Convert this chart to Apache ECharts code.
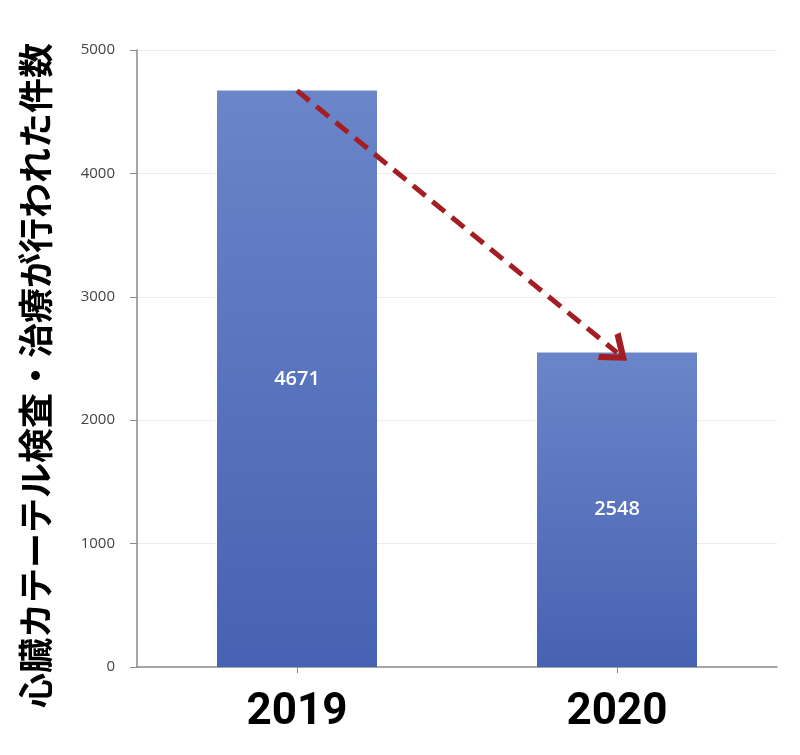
<!DOCTYPE html>
<html>
<head>
<meta charset="utf-8">
<script src="https://cdn.jsdelivr.net/npm/echarts@6/dist/echarts.min.js"></script>
<style>
  html, body { margin: 0; padding: 0; background: #fff; }
  #main { width: 800px; height: 755px; }
</style>
</head>
<body>
<div id="main"></div>
<script>
// データ
var years = ['2019', '2020'];
var counts = [4671, 2548];
var yTicks = [0, 1000, 2000, 3000, 4000, 5000];
var yTitle = '心臓カテーテル検査・治療が行われた件数';

var myChart = echarts.init(document.getElementById('main'));

myChart.setOption({
    animation: false,
    backgroundColor: '#fff',
    grid: { left: 137, right: 23, top: 50, bottom: 88 },
    xAxis: {
        type: 'category',
        data: years,
        axisLine: { lineStyle: { color: '#8a8a8a', width: 1.5 } },
        axisTick: { show: true, alignWithLabel: true, length: 6, lineStyle: { color: '#8a8a8a' } },
        axisLabel: {
            color: '#000',
            fontSize: 44,
            fontWeight: 'bold',
            fontFamily: 'Roboto, "Noto Sans", sans-serif',
            margin: 24
        }
    },
    yAxis: {
        type: 'value',
        min: yTicks[0],
        max: yTicks[yTicks.length - 1],
        interval: 1000,
        name: yTitle,
        nameLocation: 'middle',
        nameRotate: 90,
        nameGap: 84,
        nameTextStyle: {
            color: '#000',
            fontSize: 35,
            fontWeight: 'bold',
            fontFamily: '"Noto Sans CJK JP", sans-serif',
            padding: [0, 34, 0, 0]
        },
        axisLine: { show: true, lineStyle: { color: '#8a8a8a', width: 1.5 } },
        axisTick: { show: true, length: 7, lineStyle: { color: '#8a8a8a' } },
        axisLabel: {
            color: '#444',
            fontSize: 15,
            fontFamily: '"Open Sans", sans-serif',
            margin: 22,
            formatter: function (v) { return String(v); }
        },
        splitLine: { lineStyle: { color: '#ececec' } }
    },
    series: [{
        name: '件数',
        type: 'bar',
        data: counts,
        barWidth: '50%',
        itemStyle: {
            color: new echarts.graphic.LinearGradient(0, 0, 0, 1, [
                { offset: 0, color: '#6a85c8' },
                { offset: 1, color: '#4862b3' }
            ])
        },
        label: {
            show: true,
            position: 'inside',
            color: '#fff',
            fontSize: 20,
            fontWeight: 600,
            fontFamily: '"Open Sans", sans-serif'
        },
        markLine: {
            silent: true,
            symbol: ['none', 'path://M0,0 L12,16 L8,18 L0,7 L-8,18 L-12,16 Z'],
            symbolSize: [36, 26],
            label: { show: false },
            lineStyle: { color: '#a31d22', width: 5, type: [16, 9], opacity: 1 },
            data: [[
                { coord: [years[0], counts[0]] },
                { coord: [years[1], counts[1]] }
            ]]
        }
    }]
});
</script>
</body>
</html>
